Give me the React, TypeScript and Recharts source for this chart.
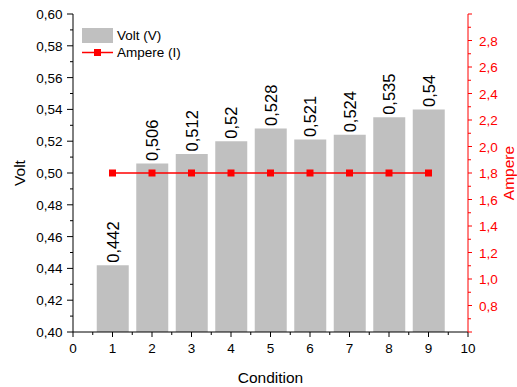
import React from 'react';
import { ComposedChart, Bar, Line, XAxis, YAxis, Legend, LabelList } from 'recharts';

const conditions = [1, 2, 3, 4, 5, 6, 7, 8, 9];
const voltValues = [0.442, 0.506, 0.512, 0.52, 0.528, 0.521, 0.524, 0.535, 0.54];
const ampereValues = [1.8, 1.8, 1.8, 1.8, 1.8, 1.8, 1.8, 1.8, 1.8];
const xTicks = [0, 0.5, 1, 1.5, 2, 2.5, 3, 3.5, 4, 4.5, 5, 5.5, 6, 6.5, 7, 7.5, 8, 8.5, 9, 9.5, 10];
const voltTicks = [0.4, 0.41, 0.42, 0.43, 0.44, 0.45, 0.46, 0.47, 0.48, 0.49, 0.5, 0.51, 0.52, 0.53, 0.54, 0.55, 0.56, 0.57, 0.58, 0.59, 0.6];
const ampereTicks = [0.6, 0.7, 0.8, 0.9, 1.0, 1.1, 1.2, 1.3, 1.4, 1.5, 1.6, 1.7, 1.8, 1.9, 2.0, 2.1, 2.2, 2.3, 2.4, 2.5, 2.6, 2.7, 2.8, 2.9, 3.0];
const legendOrder = ['volt', 'ampere'];

const data = conditions.map((c, i) => ({ condition: c, volt: voltValues[i], ampere: ampereValues[i] }));

const FONT = '"Liberation Sans", Arial, sans-serif';
const RED = '#FF0000';
const GRAY = '#C0C0C0';

const comma = (v: number, digits?: number) =>
  (digits !== undefined ? v.toFixed(digits) : String(v)).replace('.', ',');

const BottomTick = (props: any) => {
  const { x, y, payload } = props;
  const v = payload.value as number;
  const major = Math.abs(v - Math.round(v)) < 1e-6;
  return (
    <g>
      <line x1={x} x2={x} y1={y} y2={y + (major ? 5 : 3)} stroke="#000" />
      {major && (
        <text x={x} y={y + 21} textAnchor="middle" fontSize={13.5} fill="#000" fontFamily={FONT}>
          {v}
        </text>
      )}
    </g>
  );
};

const TopTick = (props: any) => {
  const { x, y, payload } = props;
  const v = payload.value as number;
  const major = Math.abs(v - Math.round(v)) < 1e-6;
  return <line x1={x} x2={x} y1={y} y2={y + (major ? 5 : 3)} stroke="#000" />;
};

const LeftTick = (props: any) => {
  const { x, y, payload } = props;
  const v = payload.value as number;
  const major = Math.round(v * 100) % 2 === 0;
  return (
    <g>
      <line x1={x} x2={x - (major ? 6 : 3)} y1={y} y2={y} stroke="#000" />
      {major && (
        <text x={x - 10.5} y={y + 5} textAnchor="end" fontSize={13.5} fill="#000" fontFamily={FONT}>
          {comma(v, 2)}
        </text>
      )}
    </g>
  );
};

const RightTick = (props: any) => {
  const { x, y, payload } = props;
  const v = payload.value as number;
  const tenths = Math.round(v * 10);
  const major = tenths % 2 === 0;
  const labeled = major && tenths >= 8 && tenths <= 28;
  return (
    <g>
      <line x1={x} x2={x + (major ? 4 : 3)} y1={y} y2={y} stroke={RED} />
      {labeled && (
        <text x={x + 11} y={y + 5} textAnchor="start" fontSize={13.5} fill={RED} fontFamily={FONT}>
          {comma(v, 1)}
        </text>
      )}
    </g>
  );
};

const BarValueLabel = (props: any) => {
  const { x, y, width, value } = props;
  const cx = x + width / 2;
  const cy = y - 2.5;
  return (
    <text
      x={cx}
      y={cy}
      transform={`rotate(-90, ${cx}, ${cy})`}
      textAnchor="start"
      dominantBaseline="central"
      fontSize={16.5}
      fill="#000"
      fontFamily={FONT}
    >
      {comma(value)}
    </text>
  );
};

const SquareDot = (props: any) => {
  const { cx, cy, index } = props;
  return <rect key={`dot-${index}`} x={cx - 3.5} y={cy - 3.5} width={7} height={7} fill={RED} />;
};

const renderLegend = (props: any) => {
  const payload = [...(props.payload || [])].sort(
    (a: any, b: any) => legendOrder.indexOf(a.dataKey) - legendOrder.indexOf(b.dataKey)
  );
  return (
    <div style={{ fontFamily: FONT, fontSize: 13.5, color: '#000' }}>
      {payload.map((e: any, i: number) => (
        <div key={i} style={{ display: 'flex', alignItems: 'center', height: 17 }}>
          <svg width={31} height={15} style={{ display: 'block' }}>
            {e.dataKey === 'volt' ? (
              <rect x={0} y={0} width={31} height={15} fill={GRAY} />
            ) : (
              <g>
                <line x1={0} x2={31} y1={7.5} y2={7.5} stroke={RED} strokeWidth={1.5} />
                <rect x={12} y={4} width={7} height={7} fill={RED} />
              </g>
            )}
          </svg>
          <span style={{ marginLeft: 4, whiteSpace: 'nowrap' }}>{e.value}</span>
        </div>
      ))}
    </div>
  );
};

export default function App() {
  return (
    <div style={{ position: 'absolute', left: 0, top: 0, width: 517, height: 387, background: '#fff' }}>
      <ComposedChart
        width={517}
        height={387}
        data={data}
        margin={{ top: 14, right: 0, left: 13, bottom: 0 }}
        style={{ fontFamily: FONT }}
      >
        <XAxis
          xAxisId="bottom"
          dataKey="condition"
          type="number"
          domain={[0, 10]}
          ticks={xTicks}
          interval={0}
          allowDataOverflow
          height={55}
          tickSize={0}
          tickMargin={0}
          tickLine={false}
          tick={<BottomTick />}
          axisLine={{ stroke: '#000' }}
          label={{ value: 'Condition', position: 'insideBottom', offset: 4, fontSize: 15.5, fill: '#000' }}
        />
        <XAxis
          xAxisId="top"
          orientation="top"
          dataKey="condition"
          type="number"
          domain={[0, 10]}
          ticks={xTicks}
          interval={0}
          allowDataOverflow
          height={0}
          mirror
          tickSize={0}
          tickMargin={0}
          tickLine={false}
          tick={<TopTick />}
          axisLine={{ stroke: '#000' }}
        />
        <YAxis
          yAxisId="left"
          domain={[0.4, 0.6]}
          ticks={voltTicks}
          interval={0}
          allowDataOverflow
          width={60}
          tickSize={0}
          tickMargin={0}
          tickLine={false}
          tick={<LeftTick />}
          axisLine={{ stroke: '#000' }}
          label={{ value: 'Volt', angle: -90, position: 'insideLeft', offset: 6, fontSize: 15.5, fill: '#000', style: { textAnchor: 'middle' } }}
        />
        <YAxis
          yAxisId="right"
          orientation="right"
          domain={[0.6, 3.0]}
          ticks={ampereTicks}
          interval={0}
          allowDataOverflow
          width={49}
          tickSize={0}
          tickMargin={0}
          tickLine={false}
          tick={<RightTick />}
          axisLine={{ stroke: RED }}
          label={{ value: 'Ampere', angle: -90, position: 'insideRight', offset: 9, fontSize: 15.5, fill: RED, style: { textAnchor: 'middle' } }}
        />
        <Legend
          content={renderLegend}
          layout="vertical"
          align="center"
          verticalAlign="middle"
          wrapperStyle={{ position: 'absolute', left: 82, top: 27, width: 'auto', height: 'auto', right: 'auto', bottom: 'auto' }}
        />
        <Bar
          xAxisId="bottom"
          yAxisId="left"
          dataKey="volt"
          name="Volt (V)"
          fill={GRAY}
          barSize={32}
          isAnimationActive={false}
        >
          <LabelList dataKey="volt" content={<BarValueLabel />} />
        </Bar>
        <Line
          xAxisId="bottom"
          yAxisId="right"
          dataKey="ampere"
          name="Ampere (I)"
          stroke={RED}
          strokeWidth={1.5}
          dot={<SquareDot />}
          activeDot={false}
          isAnimationActive={false}
        />
      </ComposedChart>
    </div>
  );
}
